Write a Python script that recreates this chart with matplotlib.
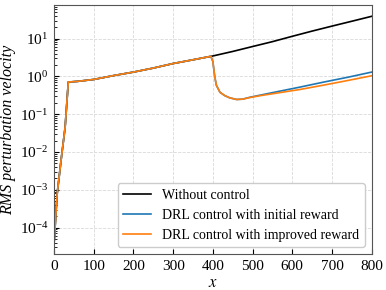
import matplotlib
matplotlib.use("Agg")
import matplotlib.pyplot as plt
import numpy as np

plt.rcParams["font.family"] = ["Liberation Serif", "DejaVu Serif"]
plt.rcParams["mathtext.fontset"] = "stix"

# data
x_nc = [0, 8, 18, 28, 36, 45, 60, 100, 150, 200, 250, 300, 350, 400,
        450, 500, 550, 600, 650, 700, 750, 800]
v_nc = [3.5e-5, 7.9e-4, 6.3e-3, 0.045, 0.71, 0.72, 0.74, 0.83, 1.05, 1.3,
        1.66, 2.19, 2.75, 3.47, 4.57, 6.17, 8.3, 11.5, 15.8, 21.4, 28.8, 38.9]

x_ctrl = [0, 8, 18, 28, 36, 45, 60, 100, 150, 200, 250, 300, 350, 395,
          400, 405, 409, 418, 430, 443, 460, 475, 493, 520, 560, 619, 680,
          740, 800]
v_init = [3.5e-5, 7.9e-4, 6.3e-3, 0.045, 0.71, 0.72, 0.74, 0.83, 1.05, 1.3,
          1.66, 2.19, 2.75, 3.4, 2.5, 0.95, 0.58, 0.38, 0.31, 0.27, 0.245,
          0.25, 0.28, 0.32, 0.39, 0.52, 0.71, 0.95, 1.3]
v_impr = [3.5e-5, 7.9e-4, 6.3e-3, 0.045, 0.71, 0.72, 0.74, 0.83, 1.05, 1.3,
          1.66, 2.19, 2.75, 3.4, 2.5, 0.95, 0.58, 0.38, 0.31, 0.27, 0.245,
          0.25, 0.275, 0.31, 0.36, 0.45, 0.59, 0.78, 1.04]
xticks = [0, 100, 200, 300, 400, 500, 600, 700, 800]

fig = plt.figure(figsize=(3.86, 2.9), dpi=100)
ax = fig.add_axes([0.1399, 0.1241, 0.823, 0.8576])

ax.semilogy(x_nc, v_nc, color="black", lw=1.2, label="Without control")
ax.semilogy(x_ctrl, v_init, color="#1f77b4", lw=1.2,
            label="DRL control with initial reward")
ax.semilogy(x_ctrl, v_impr, color="#ff7f0e", lw=1.2,
            label="DRL control with improved reward")

ax.set_xlim(0, 800)
ax.set_ylim(2.0e-5, 76)
ax.set_xticks(xticks)
ax.set_yticks([1e-4, 1e-3, 1e-2, 1e-1, 1e0, 1e1])
ax.grid(True, which="major", ls="--", color="#d9d9d9", lw=0.6)

ax.tick_params(direction="in", labelsize=11, which="both")
ax.tick_params(which="major", length=3.5, pad=4)
ax.tick_params(which="minor", length=2)
for s in ax.spines.values():
    s.set_color("#555555")

ax.set_xlabel("$x$", fontsize=12, labelpad=2)
ax.set_ylabel("RMS perturbation velocity", fontsize=11.5, style="italic",
              labelpad=3)

leg = ax.legend(loc="lower right", fontsize=10, framealpha=1,
                edgecolor="#cccccc", borderaxespad=0.5)

fig.savefig("out.png", dpi=100)
